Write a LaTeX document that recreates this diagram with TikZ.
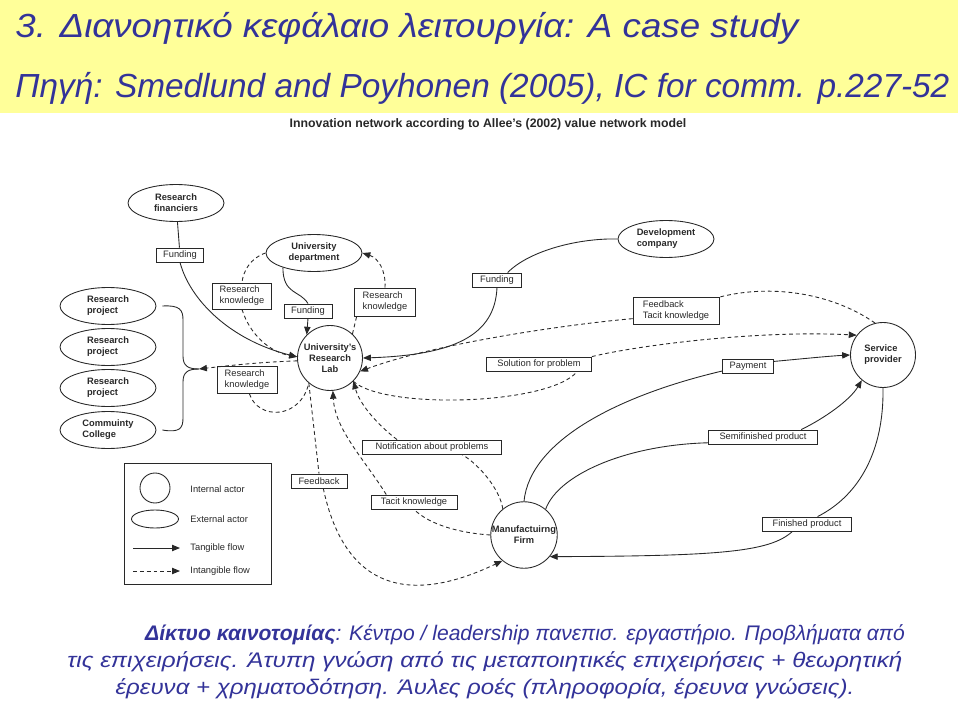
\documentclass[tikz,border=0pt]{standalone}
\usepackage{fontspec}
\setmainfont{Liberation Sans}
\newfontfamily\figfont{Liberation Sans}
\newfontfamily\slidefont{Liberation Sans}
\usetikzlibrary{arrows.meta,shapes.geometric}
\definecolor{bannerYellow}{RGB}{255,255,153}
\definecolor{slideBlue}{RGB}{51,51,153}
\definecolor{inkGray}{RGB}{40,40,40}
\newcommand\figrm{\figfont\fontsize{5.3pt}{6.3pt}\selectfont}
\newcommand\figbf{\figfont\bfseries\fontsize{5.3pt}{6.3pt}\selectfont}

\begin{document}
\begin{tikzpicture}[x=0.02cm,y=-0.02cm,>={Triangle[length=4.5pt,width=3.6pt]},color=inkGray,line width=0.5pt,
  ext/.style={ellipse,draw,font=\figbf,align=center,inner sep=0pt,minimum width=1.92cm,minimum height=0.74cm},
  intn/.style={circle,draw,font=\figbf,align=center,inner sep=0pt,minimum size=1.3cm},
  lbl/.style={draw,font=\figrm,align=left,inner sep=0pt,minimum height=0.28cm},
  key/.style={font=\figrm,anchor=west,inner sep=0pt},
  idash/.style={dash pattern=on 2.2pt off 1.7pt},
  tflow/.style={->},
  iflow/.style={idash,->},
  ttl/.style={font=\slidefont\itshape\fontsize{19pt}{22pt}\selectfont,text=slideBlue,anchor=base west,inner sep=0pt},
  capt/.style={font=\slidefont\itshape\fontsize{12pt}{14pt}\selectfont,text=slideBlue,anchor=base,inner sep=0pt}]
\useasboundingbox (0,0) rectangle (960,706);
\fill[bannerYellow] (0,0) rectangle (958,113);
\node[ttl] (ttlA) at (15,38) {\addfontfeature{FakeStretch=1.1}3. Διανοητικό κεφάλαιο λειτουργία: A case study};
\node[ttl] (ttlB) at (15,98) {Πηγή: Smedlund and Poyhonen (2005), IC for comm. p.227-52};
\node[font=\figbf\fontsize{7pt}{8pt}\selectfont,inner sep=0pt] (sub) at (488,124) {Innovation network according to Allee’s (2002) value network model};

\node[ext] (fin) at (176,203) {Research\\financiers};
\node[ext] (dept) at (314,253) {University\\department};
\node[ext,align=left] (dev) at (666,239) {Development\\company};
\node[ext,align=left] (proj1) at (108,306) {Research\\project};
\node[ext,align=left] (proj2) at (108,347) {Research\\project};
\node[ext,align=left] (proj3) at (108,388) {Research\\project};
\node[ext,align=left] (coll) at (108,430) {Commuinty\\College};
\node[intn] (lab) at (330,358) {University’s\\Research\\Lab};
\node[intn,align=left] (sp) at (883,355) {Service\\provider};
\node[intn] (firm) at (524,535) {Manufactuirng\\Firm};

\node[lbl,minimum width=0.94cm] (bfund1) at (180,255) {Funding};
\node[lbl,minimum width=1.18cm,minimum height=0.52cm] (bknow1) at (242,296) {Research\\knowledge};
\node[lbl,minimum width=0.96cm] (bfund2) at (308,311) {Funding};
\node[lbl,minimum width=1.22cm,minimum height=0.56cm] (bknow2) at (385,302) {Research\\knowledge};
\node[lbl,minimum width=0.98cm] (bfund3) at (497,280) {Funding};
\node[lbl,minimum width=1.72cm,minimum height=0.54cm] (bfeed1) at (676,311) {Feedback\\Tacit knowledge};
\node[lbl,minimum width=2.1cm] (bsol) at (539,364) {Solution for problem};
\node[lbl,minimum width=1.02cm] (bpay) at (748,366) {Payment};
\node[lbl,minimum width=1.2cm,minimum height=0.54cm] (bknow3) at (247,380) {Research\\knowledge};
\node[lbl,minimum width=2.78cm] (bnote) at (432,447) {Notification about problems};
\node[lbl,minimum width=2.18cm] (bsemi) at (763,437) {Semifinished product};
\node[lbl,minimum width=1.12cm] (bfeed2) at (319,481) {Feedback};
\node[lbl,minimum width=1.72cm] (btacit) at (414,502) {Tacit knowledge};
\node[lbl,minimum width=1.78cm] (bfin) at (807,524) {Finished product};

\draw (fin) -- (bfund1);
\draw[tflow] (bfund1.south) .. controls (190,300) and (230,340) .. (lab.178);
\draw (dept.205) .. controls (283,295) and (300,290) .. (bfund2.north);
\draw[tflow] (bfund2.south) -- (lab.north west);
\draw (dev.west) .. controls (580,238) and (530,250) .. (bfund3.35);
\draw[tflow] (bfund3.south) .. controls (495,335) and (455,355) .. (lab.east);
\draw (firm.north) .. controls (530,440) and (620,395) .. (bpay.191);
\draw[tflow] (bpay.10) .. controls (800,359) and (830,356) .. (sp.west);
\draw (firm.50) .. controls (558,475) and (625,445) .. (bsemi.186);
\draw[tflow] (bsemi.11) .. controls (825,418) and (850,400) .. (sp.-130);
\draw (sp.south) .. controls (884,450) and (860,495) .. (bfin.35);
\draw[tflow] (bfin.207) .. controls (770,552) and (720,556) .. (firm.-40);

\draw[idash] (dept.west) .. controls (250,258) and (243,272) .. (bknow1.north);
\draw[iflow] (bknow1.south) .. controls (250,335) and (270,352) .. (lab.178);
\draw[idash] (lab.47) -- (bknow2.207);
\draw[iflow] (bknow2.north) .. controls (386,270) and (378,258) .. (dept.east);
\draw[idash] (sp.104) .. controls (835,295) and (775,283) .. (bfeed1.north east);
\draw[iflow] (bfeed1.190) .. controls (560,325) and (430,345) .. (lab.-24);
\draw[idash] (lab.-45) .. controls (385,410) and (550,405) .. (bsol.-11);
\draw[iflow] (bsol.north east) .. controls (640,345) and (760,330) .. (sp.143);
\draw[idash] (firm.129) .. controls (500,490) and (480,465) .. (bnote.-14);
\draw[iflow] (bnote.168) .. controls (378,425) and (360,405) .. (lab.-45);
\draw[idash] (firm.west) .. controls (460,533) and (430,525) .. (btacit.south);
\draw[iflow] (btacit.165) .. controls (365,460) and (335,430) .. (lab.-85);
\draw[idash] (lab.-130) -- (bfeed2.north);
\draw[iflow] (bfeed2.-60) .. controls (345,590) and (410,605) .. (firm.-130);

\coordinate (br) at (199,369);
\draw ([xshift=0.12cm]proj1.east) .. controls (180,305) and (183,310) .. (183,320) -- (183,356) .. controls (183,366) and (188,369) .. (br);
\draw ([xshift=0.12cm]coll.east) .. controls (180,433) and (183,428) .. (183,418) -- (183,382) .. controls (183,372) and (188,369) .. (br);
\draw[iflow] (lab.185) .. controls (260,362) and (225,366) .. (br);
\draw[idash] (bknow3.-80) .. controls (258,420) and (300,420) .. (lab.-130);

\node[draw,minimum width=2.94cm,minimum height=2.42cm,inner sep=0pt] (legend) at (197.5,523.5) {};
\node[circle,draw,minimum size=0.6cm,inner sep=0pt] (kint) at (155,488) {};
\node[ellipse,draw,minimum width=0.94cm,minimum height=0.36cm,inner sep=0pt] (kext) at (155,519) {};
\coordinate (ktA) at (133,548); \coordinate (ktB) at (180,548);
\coordinate (kiA) at (133,571); \coordinate (kiB) at (180,571);
\draw[tflow] (ktA) -- (ktB);
\draw[iflow] (kiA) -- (kiB);
\node[key] (kintT) at (190,489) {Internal actor};
\node[key] (kextT) at (190,519) {External actor};
\node[key] (ktT) at (190,548) {Tangible flow};
\node[key] (kiT) at (190,571) {Intangible flow};

\node[capt] (capA) at (525,640) {\textbf{Δίκτυο καινοτομίας}: Κέντρο / leadership πανεπισ. εργαστήριο. Προβλήματα από};
\node[capt] (capB) at (485,667) {\addfontfeature{FakeStretch=1.15}τις επιχειρήσεις. Άτυπη γνώση από τις μεταποιητικές επιχειρήσεις + θεωρητική};
\node[capt] (capC) at (485,694) {\addfontfeature{FakeStretch=1.14}έρευνα + χρηματοδότηση. Άυλες ροές (πληροφορία, έρευνα γνώσεις).};
\end{tikzpicture}
\end{document}
